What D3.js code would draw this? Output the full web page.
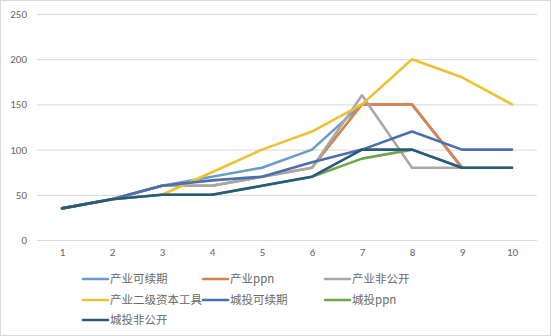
<!DOCTYPE html>
<html><head><meta charset="utf-8">
<script src="https://cdn.jsdelivr.net/npm/d3@7"></script>
<style>body{margin:0;background:#fff}svg{display:block}text{font-family:"Noto Sans CJK SC","Microsoft YaHei",sans-serif}</style>
</head><body>
<script>
const categories = [1,2,3,4,5,6,7,8,9,10];
const yTicks = [0,50,100,150,200,250];
const seriesNames = ["产业可续期","产业ppn","产业非公开","产业二级资本工具","城投可续期","城投ppn","城投非公开"];
const s1 = [35,45,60,70,80,100,150,150,80,null];
const s2 = [35,45,60,60,70,80,150,150,80,null];
const s3 = [35,45,60,60,70,80,160,80,80,null];
const s4 = [null,null,50,75,100,120,150,200,180,150];
const s5 = [35,45,60,66,70,86,100,120,100,100];
const s6 = [35,45,50,50,60,70,90,100,80,80];
const s7 = [35,45,50,50,60,70,100,100,80,80];
const seriesValues = [s1,s2,s3,s4,s5,s6,s7];
const colors = ["#6B9BC6","#D8834C","#A8A8A8","#EBC232","#4A6FAD","#6FA64C","#275A7C"];

const W=551,H=336;
const svg=d3.select("body").append("svg").attr("width",W).attr("height",H);
svg.append("rect").attr("x",0.5).attr("y",0.5).attr("width",W-1).attr("height",H-1).attr("fill","#fff").attr("stroke","#d9d9d9");

const x=d3.scalePoint().domain(categories).range([62,512]);
const y=d3.scaleLinear().domain([0,250]).range([240,14]);

const grid=svg.append("g");
grid.selectAll("line").data(yTicks).join("line")
 .attr("x1",37).attr("x2",537).attr("y1",d=>y(d)+0.5).attr("y2",d=>y(d)+0.5)
 .attr("stroke","#d9d9d9").attr("stroke-width",1);

const yAxis=svg.append("g").attr("transform","translate(37,0)")
 .call(d3.axisLeft(y).tickValues(yTicks).tickSize(0).tickPadding(10));
yAxis.select(".domain").remove();
yAxis.selectAll("text").attr("fill","#666").style("font-size","11px").style("font-family","Calibri,Carlito,'Liberation Sans',sans-serif");

const xAxis=svg.append("g").attr("transform","translate(0,240)")
 .call(d3.axisBottom(x).tickSize(0).tickPadding(8));
xAxis.select(".domain").remove();
xAxis.selectAll("text").attr("fill","#666").style("font-size","11px").style("font-family","Calibri,Carlito,'Liberation Sans',sans-serif");

const line=d3.line().defined(d=>d.v!=null).x(d=>x(d.c)).y(d=>y(d.v));
seriesValues.forEach((vals,i)=>{
  svg.append("path").datum(vals.map((v,j)=>({c:categories[j],v})))
   .attr("d",line).attr("fill","none").attr("stroke",colors[i])
   .attr("stroke-width",2.6).attr("stroke-linejoin","round").attr("stroke-linecap","round");
});

const legX=[83,203,325], legY=[279,300,320];
const leg=svg.append("g");
seriesNames.forEach((n,i)=>{
  const gx=legX[i%3], gy=legY[Math.floor(i/3)];
  const g=leg.append("g").attr("transform",`translate(${gx},${gy})`);
  g.append("line").attr("x1",0).attr("x2",25).attr("y1",0).attr("y2",0).attr("stroke",colors[i]).attr("stroke-width",2.6).attr("stroke-linecap","round");
  g.append("text").attr("x",27).attr("y",0).attr("dy","0.35em").attr("fill","#6a6a6a").style("font-size","11.5px").text(n);
});
</script>
</body></html>
